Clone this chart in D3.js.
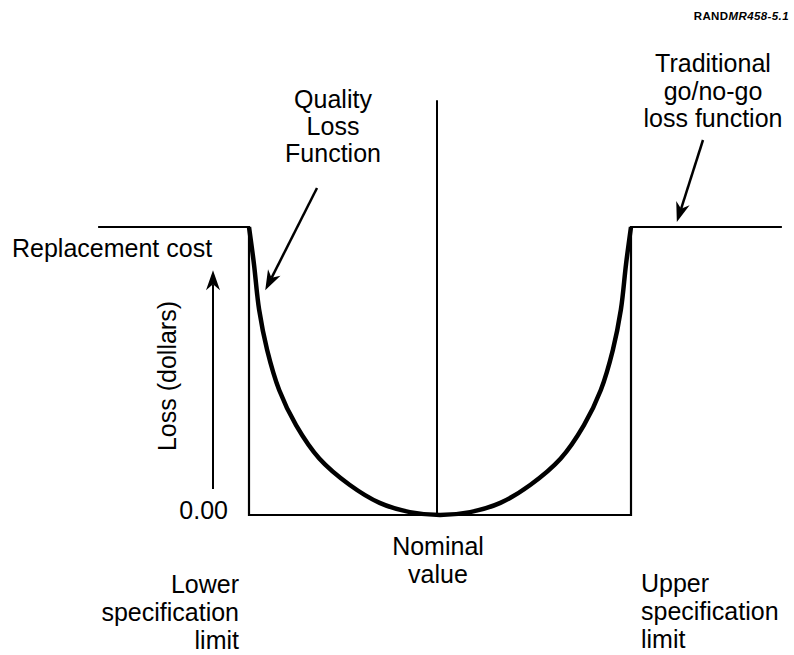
<!DOCTYPE html>
<html>
<head>
<meta charset="utf-8">
<script src="https://cdn.jsdelivr.net/npm/d3@7"></script>
<style>
  html, body { margin: 0; padding: 0; background: #fff; }
  svg { display: block; }
  text { font-family: "Liberation Sans", Arial, Helvetica, sans-serif; fill: #000; }
</style>
</head>
<body>
<script>
// ---- data (deviation from nominal: -1 = LSL, 0 = nominal, 1 = USL; loss: 0..1 of replacement cost)
const lossCurveX = [-1, -0.974, -0.947, -0.905, -0.842, -0.753, -0.632, -0.474, -0.316, -0.158, 0,
                    0.158, 0.316, 0.474, 0.632, 0.753, 0.842, 0.905, 0.947, 0.974, 1];
const lossCurveY = [1, 0.871, 0.713, 0.573, 0.434, 0.311, 0.196, 0.105, 0.042, 0.010, 0,
                    0.010, 0.042, 0.105, 0.196, 0.311, 0.434, 0.573, 0.713, 0.871, 1];
// traditional go/no-go step function
const goNoGoX = [-1.79, -1, -1, 1, 1, 1.79];
const goNoGoY = [1, 1, 0, 0, 1, 1];
const specLimits = [-1, 1];
const nominal = 0;
const lossTicks = ["0.00", "Replacement cost"];

const W = 794, H = 655;
const svg = d3.select("body").append("svg").attr("width", W).attr("height", H);

const x = d3.scaleLinear().domain([-1, 1]).range([249, 631]);
const y = d3.scaleLinear().domain([0, 1]).range([515, 227]);

const line = d3.line().x(d => x(d[0])).y(d => y(d[1]));

// go/no-go step function
svg.append("path")
  .datum(goNoGoX.map((v, i) => [v, goNoGoY[i]]))
  .attr("d", line)
  .attr("fill", "none").attr("stroke", "#000").attr("stroke-width", 2.2)
  .attr("stroke-linejoin", "miter");

// nominal vertical line
svg.append("line")
  .attr("x1", x(nominal) - 3).attr("x2", x(nominal) - 3)
  .attr("y1", y(0)).attr("y2", y(1.44))
  .attr("stroke", "#000").attr("stroke-width", 2);

// quality loss curve
svg.append("path")
  .datum(lossCurveX.map((v, i) => [v, lossCurveY[i]]))
  .attr("d", d3.line().x(d => x(d[0])).y(d => y(d[1])).curve(d3.curveCatmullRom.alpha(0.5)))
  .attr("fill", "none").attr("stroke", "#000").attr("stroke-width", 4.5)
  .attr("stroke-linecap", "butt");

// arrow helper
function arrow(x1, y1, x2, y2, w) {
  const dx = x2 - x1, dy = y2 - y1, L = Math.hypot(dx, dy);
  const ux = dx / L, uy = dy / L, px = -uy, py = ux;
  const hl = 20, hw = 7, notch = 6;
  svg.append("line")
    .attr("x1", x1).attr("y1", y1)
    .attr("x2", x2 - ux * (hl - notch)).attr("y2", y2 - uy * (hl - notch))
    .attr("stroke", "#000").attr("stroke-width", w);
  const bx = x2 - ux * hl, by = y2 - uy * hl;
  const nx = x2 - ux * (hl - notch), ny = y2 - uy * (hl - notch);
  svg.append("path")
    .attr("d", `M${x2},${y2} L${bx + px * hw},${by + py * hw} L${nx},${ny} L${bx - px * hw},${by - py * hw} Z`)
    .attr("fill", "#000");
}

// Loss axis arrow
arrow(213, y(0.09), 213, y(0.85), 2);
// Quality loss function pointer
arrow(317, 188, x(-0.915), y(0.78), 2.5);
// Traditional pointer
arrow(703, 140, x(1.24), y(1.017), 2.5);

// ---- text
const fs = 25;
function txt(s, tx, ty, anchor, opts = {}) {
  const t = svg.append("text").attr("x", tx).attr("y", ty)
    .attr("text-anchor", anchor).style("font-size", (opts.size || fs) + "px").text(s);
  if (opts.weight) t.style("font-weight", opts.weight);
  return t;
}

// RAND label
const rl = svg.append("text").attr("x", 789).attr("y", 20).attr("text-anchor", "end")
  .style("font-size", "11.5px").style("font-weight", "bold").style("letter-spacing", "0.4px");
rl.append("tspan").text("RAND");
rl.append("tspan").style("font-style", "italic").text("MR458-5.1");

// y labels
txt(lossTicks[1], 12, 257, "start");
txt(lossTicks[0], 228, 519, "end");
svg.append("text")
  .attr("transform", "translate(176,376) rotate(-90)")
  .attr("text-anchor", "middle").style("font-size", fs + "px")
  .text("Loss (dollars)");

// top annotations
["Quality", "Loss", "Function"].forEach((s, i) => txt(s, 333, 108 + i * 27, "middle"));
["Traditional", "go/no-go", "loss function"].forEach((s, i) => txt(s, 713, 72 + i * 27.5, "middle"));

// x labels
["Nominal", "value"].forEach((s, i) => txt(s, x(nominal) - 2, 555 + i * 28, "middle"));
["Lower", "specification", "limit"].forEach((s, i) => txt(s, 239, 593 + i * 28, "end"));
["Upper", "specification", "limit"].forEach((s, i) => txt(s, 641, 592 + i * 28, "start"));
</script>
</body>
</html>
